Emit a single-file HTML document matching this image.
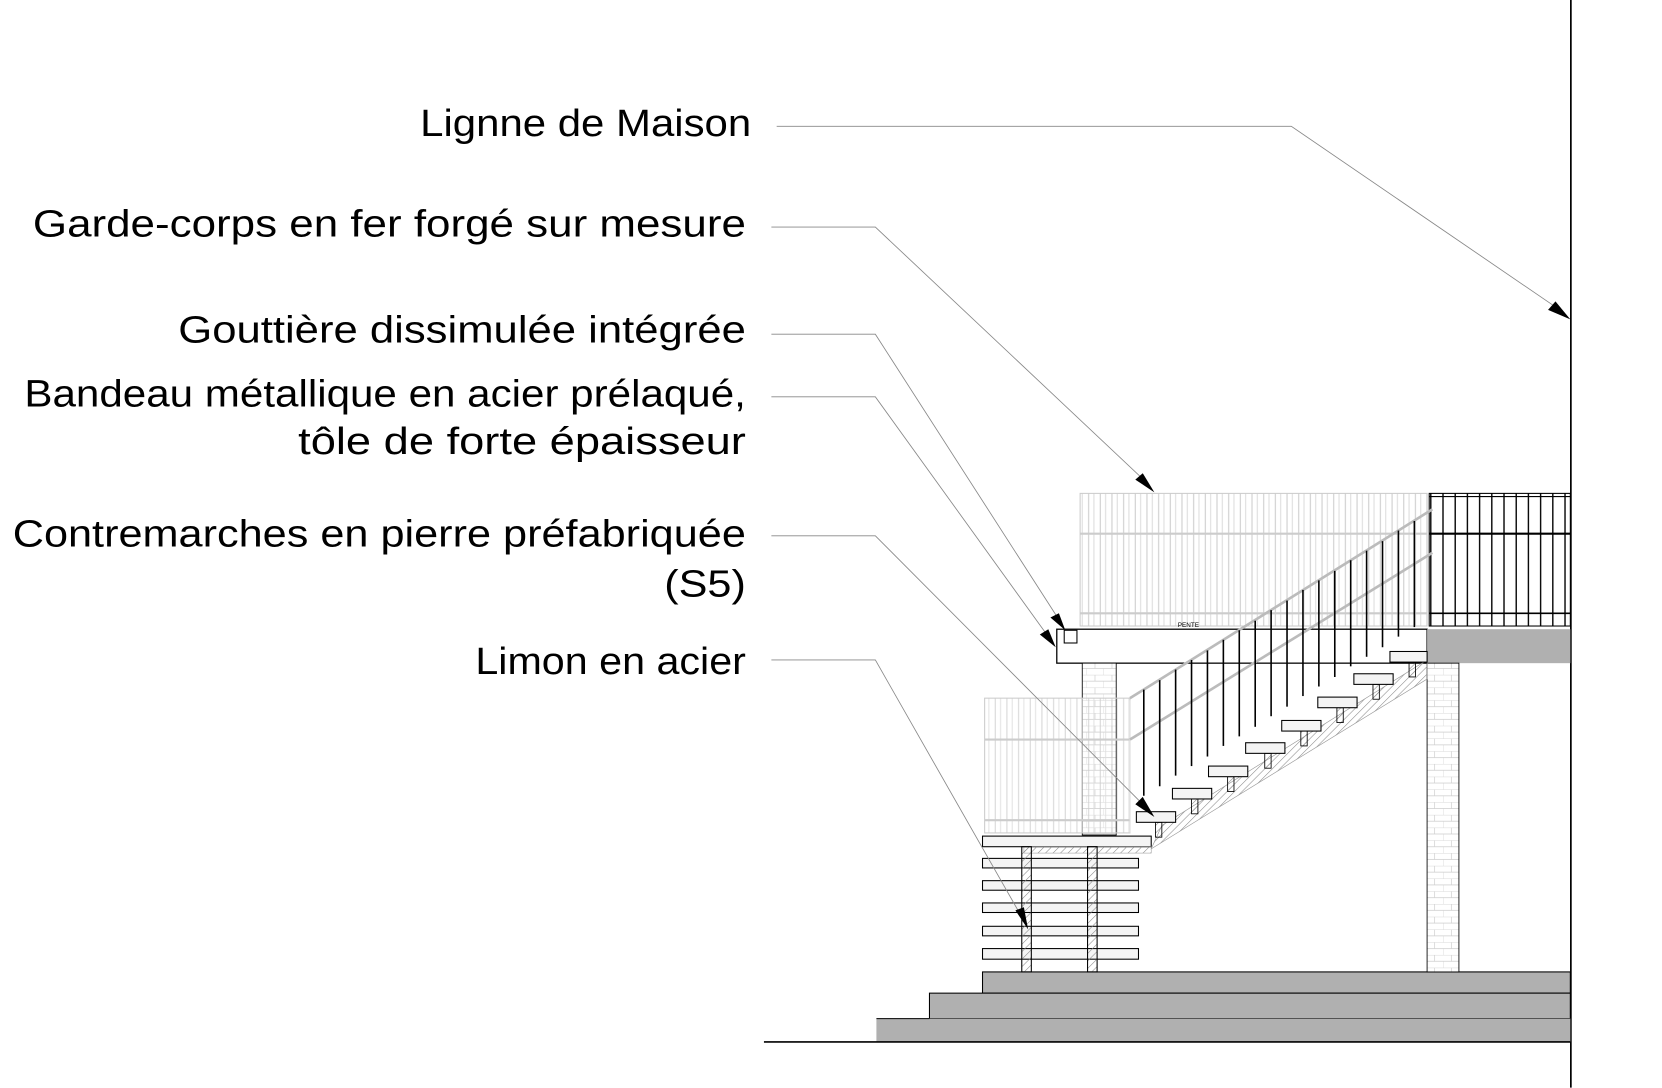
<!DOCTYPE html>
<html><head><meta charset="utf-8"><style>html,body{margin:0;padding:0;background:#fff}svg{display:block}</style></head>
<body>
<svg width="1662" height="1088" viewBox="0 0 1566.4 1025.4" preserveAspectRatio="none" xmlns="http://www.w3.org/2000/svg">
<defs>
<pattern id="h" width="5" height="5" patternUnits="userSpaceOnUse" patternTransform="rotate(45)"><line x1="0" y1="0" x2="0" y2="5" stroke="#888" stroke-width="1"/></pattern>
<pattern id="brick" width="16" height="12" patternUnits="userSpaceOnUse"><rect width="16" height="12" fill="#fff"/><path d="M0 0H16M0 6H16M8 0V6M0 6V12" stroke="#ccc" stroke-width="0.6" fill="none"/></pattern>
<pattern id="lg" width="11" height="10" patternUnits="userSpaceOnUse"><line x1="3" y1="0" x2="3" y2="10" stroke="#ccc" stroke-width="1"/><line x1="8" y1="0" x2="8" y2="10" stroke="#ddd" stroke-width="1"/></pattern>
<pattern id="dk" width="11.5" height="10" patternUnits="userSpaceOnUse"><line x1="3" y1="0" x2="3" y2="10" stroke="#000" stroke-width="1.3"/></pattern>
</defs>
<g font-family="Liberation Sans, sans-serif" font-size="36" fill="#000" text-anchor="end">
<text x="708" y="128" textLength="312" lengthAdjust="spacingAndGlyphs">Lignne de Maison</text>
<text x="703" y="223" textLength="672" lengthAdjust="spacingAndGlyphs">Garde-corps en fer forgé sur mesure</text>
<text x="703" y="323" textLength="535" lengthAdjust="spacingAndGlyphs">Gouttière dissimulée intégrée</text>
<text x="703" y="383" textLength="680" lengthAdjust="spacingAndGlyphs">Bandeau métallique en acier prélaqué,</text>
<text x="703" y="428" textLength="422" lengthAdjust="spacingAndGlyphs">tôle de forte épaisseur</text>
<text x="703" y="515" textLength="691" lengthAdjust="spacingAndGlyphs">Contremarches en pierre préfabriquée</text>
<text x="703" y="562" textLength="77" lengthAdjust="spacingAndGlyphs">(S5)</text>
<text x="703" y="635" textLength="255" lengthAdjust="spacingAndGlyphs">Limon en acier</text>
</g>
<line x1="1480.5" y1="0" x2="1480.5" y2="1025" stroke="#000" stroke-width="1.6"/>
<rect x="926" y="916" width="554" height="20" fill="#b0b0b0" stroke="#000" stroke-width="1"/>
<rect x="876" y="936" width="604" height="24" fill="#b0b0b0" stroke="#000" stroke-width="1"/>
<rect x="826" y="960" width="654" height="22" fill="#b0b0b0"/>
<line x1="826" y1="960" x2="876" y2="960" stroke="#000"/>
<line x1="720" y1="982" x2="1480" y2="982" stroke="#000" stroke-width="1.5"/>
<rect x="1018" y="465" width="327" height="125" fill="url(#lg)" stroke="#ccc"/>
<line x1="1018" y1="503" x2="1345" y2="503" stroke="#ccc" stroke-width="2"/>
<line x1="1018" y1="578" x2="1345" y2="578" stroke="#ccc" stroke-width="2"/>
<text x="1110" y="591" font-family="Liberation Sans, sans-serif" font-size="6">PENTE</text>
<rect x="1347" y="465" width="133" height="125" fill="url(#dk)" stroke="#000"/>
<line x1="1347" y1="468" x2="1480" y2="468" stroke="#000"/>
<line x1="1347" y1="503" x2="1480" y2="503" stroke="#000" stroke-width="2"/>
<line x1="1347" y1="578" x2="1480" y2="578" stroke="#000" stroke-width="1.5"/>
<rect x="996" y="593" width="349" height="32" fill="#fff" stroke="#000" stroke-width="1.2"/>
<rect x="1345" y="593" width="135" height="32" fill="#b0b0b0"/>
<rect x="1003" y="594" width="12" height="12" fill="#fff" stroke="#000"/>
<rect x="1020" y="625" width="32" height="162" fill="url(#brick)" stroke="#000" stroke-width="0.8"/>
<rect x="1345" y="625" width="30" height="291" fill="url(#brick)" stroke="#000" stroke-width="0.8"/>
<rect x="928" y="658" width="137" height="127" fill="url(#lg)" stroke="#ccc" fill-opacity="0.8"/>
<line x1="928" y1="697" x2="1065" y2="697" stroke="#ccc" stroke-width="2"/>
<line x1="928" y1="773" x2="1065" y2="773" stroke="#ccc" stroke-width="2"/>
<line x1="1065" y1="660" x2="1065" y2="785" stroke="#ddd" stroke-width="1"/>
<!-- stringer -->
<polygon points="1085,800 1345,640 1345,622 1095,778" fill="url(#h)" stroke="#999" stroke-width="0.6"/>
<!-- railing -->
<line x1="1065" y1="658" x2="1350" y2="480" stroke="#bbb" stroke-width="2.5"/>
<line x1="1065" y1="697" x2="1350" y2="521" stroke="#bbb" stroke-width="2.5"/>
<g stroke="#000" stroke-width="1.6" id="bars"></g>
<g stroke="#000" stroke-width="1.5">
<line x1="1078" y1="650" x2="1078" y2="750"/><line x1="1093" y1="641" x2="1093" y2="741"/><line x1="1108" y1="631" x2="1108" y2="731"/><line x1="1123" y1="622" x2="1123" y2="722"/><line x1="1138" y1="613" x2="1138" y2="713"/><line x1="1153" y1="603" x2="1153" y2="703"/><line x1="1168" y1="594" x2="1168" y2="694"/><line x1="1183" y1="585" x2="1183" y2="685"/><line x1="1198" y1="575" x2="1198" y2="675"/><line x1="1213" y1="566" x2="1213" y2="666"/><line x1="1228" y1="556" x2="1228" y2="656"/><line x1="1243" y1="547" x2="1243" y2="647"/><line x1="1258" y1="538" x2="1258" y2="638"/><line x1="1273" y1="528" x2="1273" y2="628"/><line x1="1288" y1="519" x2="1288" y2="619"/><line x1="1303" y1="510" x2="1303" y2="610"/><line x1="1318" y1="500" x2="1318" y2="600"/><line x1="1333" y1="491" x2="1333" y2="591"/>
</g>
<!-- tread supports -->
<g fill="url(#h)" stroke="#000" stroke-width="0.8">
<rect x="1089" y="775" width="6" height="14"/><rect x="1123" y="753" width="6" height="14"/><rect x="1157" y="732" width="6" height="14"/><rect x="1192" y="710" width="6" height="14"/><rect x="1226" y="689" width="6" height="14"/><rect x="1260" y="667" width="6" height="14"/><rect x="1294" y="645" width="6" height="14"/><rect x="1328" y="624" width="6" height="14"/>
</g>
<g fill="#f4f4f4" stroke="#000" stroke-width="1">
<rect x="1071" y="765" width="37" height="10"/><rect x="1105" y="743" width="37" height="10"/><rect x="1139" y="722" width="37" height="10"/><rect x="1174" y="700" width="37" height="10"/><rect x="1208" y="679" width="37" height="10"/><rect x="1242" y="657" width="37" height="10"/><rect x="1276" y="635" width="37" height="10"/><rect x="1310" y="614" width="35" height="10"/>
</g>
<rect x="926" y="788" width="159" height="10" fill="#f4f4f4" stroke="#000"/>
<rect x="965" y="798" width="120" height="6" fill="url(#h)" stroke="#999" stroke-width="0.5"/>
<g fill="#f4f4f4" stroke="#000" stroke-width="1">
<rect x="926" y="809" width="147" height="9"/><rect x="926" y="830" width="147" height="9"/><rect x="926" y="851" width="147" height="9"/><rect x="926" y="873" width="147" height="9"/><rect x="926" y="894" width="147" height="10"/>
</g>
<rect x="963" y="798" width="9" height="118" fill="url(#h)" stroke="#000"/>
<rect x="1025" y="798" width="9" height="118" fill="url(#h)" stroke="#000"/>
<g stroke="#888" stroke-width="0.8" fill="none">
<polyline points="732,119 1217,119 1470,292"/>
<polyline points="727,214 825,214 1082,456"/>
<polyline points="727,315 825,315 998,584"/>
<polyline points="727,374 825,374 988,600"/>
<polyline points="727,505 825,505 1080,761"/>
<polyline points="727,622 825,622 964,866"/>
</g>
<g fill="#000">
<polygon points="1480,301 1459,292 1466,284"/>
<polygon points="1088,464 1070,452 1077,446"/>
<polygon points="1004,594 990,582 998,578"/>
<polygon points="995,610 980,598 988,593"/>
<polygon points="1088,770 1070,758 1077,751"/>
<polygon points="969,876 957,858 965,855"/>
</g>
</svg>
</body></html>
